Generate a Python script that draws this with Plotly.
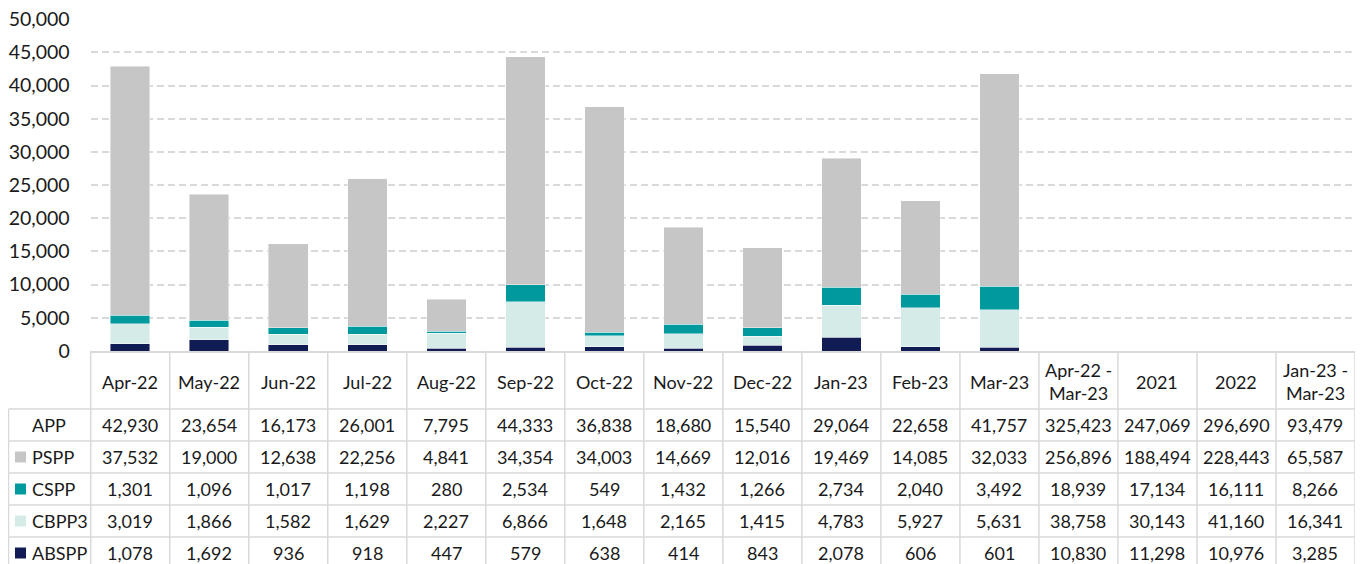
import plotly.graph_objects as go

categories = ["Apr-22", "May-22", "Jun-22", "Jul-22", "Aug-22", "Sep-22", "Oct-22", "Nov-22",
              "Dec-22", "Jan-23", "Feb-23", "Mar-23", "Apr-22 -<br>Mar-23", "2021", "2022",
              "Jan-23 -<br>Mar-23"]
n_months = 12  # categories that get bars

series_names = ["APP", "PSPP", "CSPP", "CBPP3", "ABSPP"]
app = [42930, 23654, 16173, 26001, 7795, 44333, 36838, 18680, 15540, 29064, 22658, 41757,
       325423, 247069, 296690, 93479]
pspp = [37532, 19000, 12638, 22256, 4841, 34354, 34003, 14669, 12016, 19469, 14085, 32033,
        256896, 188494, 228443, 65587]
cspp = [1301, 1096, 1017, 1198, 280, 2534, 549, 1432, 1266, 2734, 2040, 3492,
        18939, 17134, 16111, 8266]
cbpp3 = [3019, 1866, 1582, 1629, 2227, 6866, 1648, 2165, 1415, 4783, 5927, 5631,
         38758, 30143, 41160, 16341]
abspp = [1078, 1692, 936, 918, 447, 579, 638, 414, 843, 2078, 606, 601,
         10830, 11298, 10976, 3285]

y_ticks = list(range(0, 50001, 5000))

C_PSPP = "#C6C6C6"
C_CSPP = "#00999E"
C_CBPP3 = "#D4EBE8"
C_ABSPP = "#121C54"
GRID = "#D9D9D9"
TXT = "#1a1a1a"
FONT = "Lato"

# the figure div sits inside the 8px body margin of the page
OX, OY = 8, 8
W, H = 1363, 564

x0_px, x1_px = 90.7, 1355.0     # plot area left/right (page px)
ytop_px, ybot_px = 19.3, 351.0  # 50,000 and 0 (page px)
tbl_left_px = 8.5
hdr_bot_px = 409.0
row_h = 32.0

def fx(px):
    return (px - OX) / W

def fy(py):
    return 1 - (py - OY) / H

n_cols = len(categories)
col_w = (x1_px - x0_px) / n_cols

def x2v(px):
    return (px - x0_px) / col_w - 0.5

def y2v(py):
    return (py - hdr_bot_px) / row_h

fig = go.Figure()

stack = [("ABSPP", abspp, C_ABSPP), ("CBPP3", cbpp3, C_CBPP3),
         ("CSPP", cspp, C_CSPP), ("PSPP", pspp, C_PSPP)]
for name, vals, col in stack:
    fig.add_trace(go.Bar(
        x=categories[:n_months], y=vals[:n_months], name=name,
        marker=dict(color=col, line=dict(width=0.8, color="rgba(255,255,255,0.55)")),
        showlegend=False, xaxis="x", yaxis="y", hoverinfo="x+y+name"))

# ---- data table drawn on its own axes (x2/y2) ----
rows = [app, pspp, cspp, cbpp3, abspp]
key_colors = [None, C_PSPP, C_CSPP, C_CBPP3, C_ABSPP]
label_left = x2v(tbl_left_px)
x_right = n_cols - 0.5
y_hdr_top = y2v(ybot_px)
y_bottom = y2v(OY + H)

fnt = dict(family=FONT, size=18, color=TXT)
annotations = []
for j, c in enumerate(categories):
    annotations.append(dict(xref="x2", yref="y2", x=j, y=y_hdr_top / 2 + 0.05, text=c,
                            showarrow=False, xanchor="center", yanchor="middle", font=fnt))
lbl_x = x2v(tbl_left_px + 21)
for i, (nm, r) in enumerate(zip(series_names, rows)):
    annotations.append(dict(xref="x2", yref="y2", x=lbl_x, y=i + 0.5, text=nm,
                            showarrow=False, xanchor="left", yanchor="middle", font=fnt))
    for j in range(n_cols):
        annotations.append(dict(xref="x2", yref="y2", x=j, y=i + 0.5, text=f"{r[j]:,}",
                                showarrow=False, xanchor="center", yanchor="middle",
                                font=fnt))

kx, ky, kc = [], [], []
for i, c in enumerate(key_colors):
    if c:
        kx.append(x2v(tbl_left_px + 12))
        ky.append(i + 0.5)
        kc.append(c)
fig.add_trace(go.Scatter(x=kx, y=ky, mode="markers", xaxis="x2", yaxis="y2",
                         marker=dict(symbol="square", size=11, color=kc, line=dict(width=0)),
                         showlegend=False, hoverinfo="skip"))

shapes = []
line = dict(color=GRID, width=1.5)
for j in range(n_cols + 1):
    shapes.append(dict(type="line", xref="x2", yref="y2", x0=j - 0.5, x1=j - 0.5,
                       y0=y_hdr_top, y1=y_bottom, line=line))
shapes.append(dict(type="line", xref="x2", yref="y2", x0=label_left, x1=label_left,
                   y0=0, y1=y_bottom, line=line))
for i in range(len(rows) + 1):
    shapes.append(dict(type="line", xref="x2", yref="y2", x0=label_left, x1=x_right,
                       y0=i, y1=i, line=line))

fig.update_layout(
    width=W, height=H, autosize=False,
    margin=dict(l=0, r=0, t=0, b=0, pad=0, autoexpand=False),
    paper_bgcolor="white", plot_bgcolor="white",
    barmode="stack", bargap=0.5,
    font=dict(family=FONT, size=18, color=TXT),
    annotations=annotations, shapes=shapes,
    xaxis=dict(
        domain=[fx(x0_px), fx(x1_px)], anchor="y", automargin=False,
        type="category", categoryorder="array", categoryarray=categories,
        range=[-0.5, n_cols - 0.5],
        showline=True, linecolor=GRID, linewidth=1.5,
        ticks="", showticklabels=False,
        showgrid=False, zeroline=False, fixedrange=True,
    ),
    yaxis=dict(
        domain=[fy(ybot_px), fy(ytop_px)], anchor="x", automargin=False,
        range=[0, 50000], tickvals=y_ticks, tickformat=",",
        showgrid=True, gridcolor=GRID, gridwidth=1.5, griddash="7px,4px",
        zeroline=False, showline=False, ticks="",
        ticklabelstandoff=20, ticklabeloverflow="allow", fixedrange=True,
        tickfont=dict(family=FONT, size=19.5, color=TXT),
    ),
    xaxis2=dict(
        domain=[max(0.0, fx(tbl_left_px - 1)), min(1.0, fx(x1_px + 2))], anchor="y2",
        range=[x2v(max(OX, tbl_left_px - 1)), x2v(min(OX + W, x1_px + 2))],
        visible=False, fixedrange=True, automargin=False,
    ),
    yaxis2=dict(
        domain=[0, fy(ybot_px)], anchor="x2",
        range=[y_bottom, y_hdr_top],
        visible=False, fixedrange=True, automargin=False,
    ),
)

fig.write_html("out.html")
